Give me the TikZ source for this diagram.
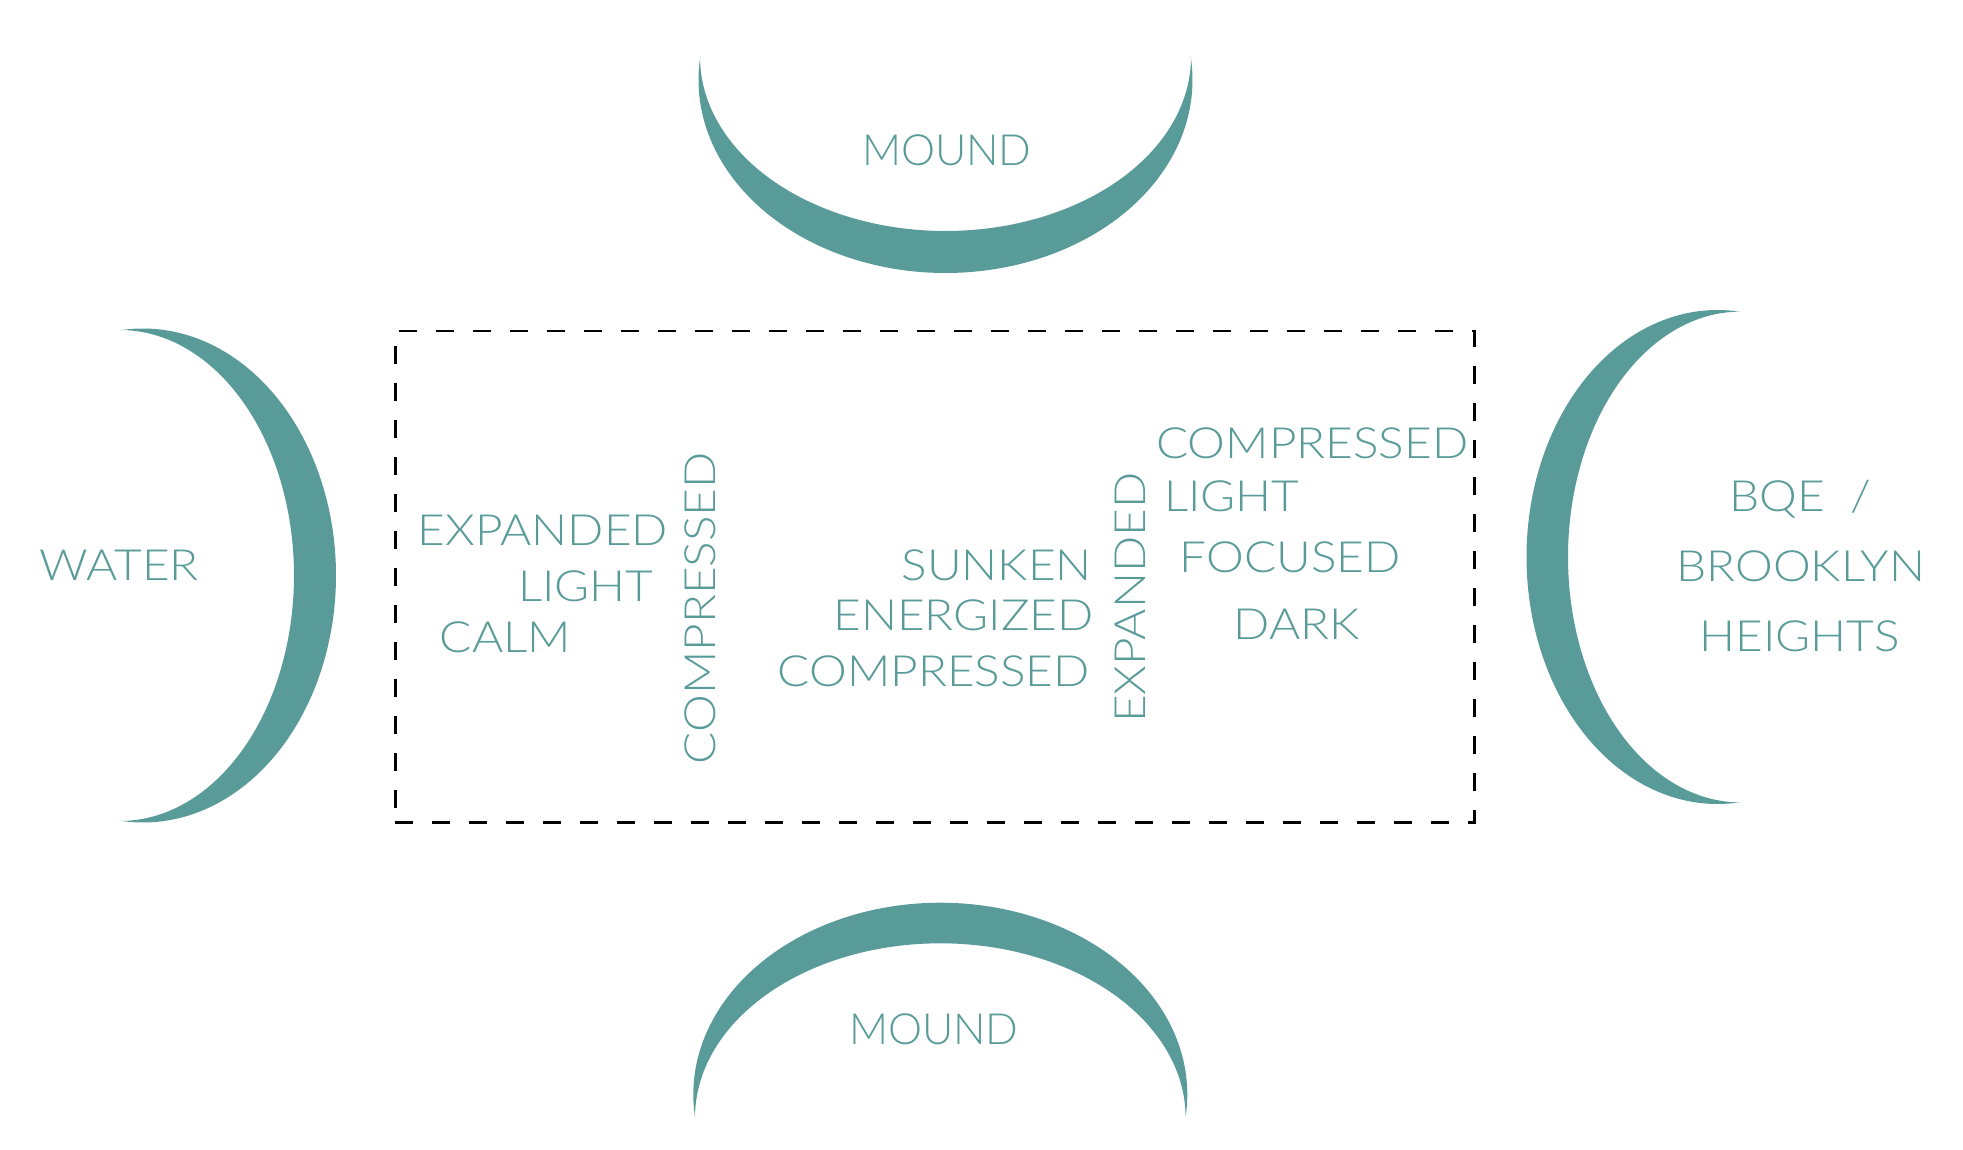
\documentclass[tikz,border=0pt]{standalone}
\usepackage{fontspec}
\newfontfamily\lblfont{Lato Light}[FakeStretch=1.11]
\newfontfamily\lblfontn{Lato Light}
\definecolor{teal1}{RGB}{89,155,152}
\tikzset{
  lbl/.style={font=\lblfont\fontsize{43}{43}\selectfont, text=teal1, inner sep=0pt, anchor=base},
  lbln/.style={lbl, font=\lblfontn\fontsize{43}{43}\selectfont},
  vlbl/.style={lbl, rotate=90},
  crescent/.style={fill=teal1, draw=none},
  frame/.style={draw=black, line width=2.5pt, dash pattern=on 18pt off 19pt}
}
\begin{document}
\begin{tikzpicture}[x=1pt,y=-1pt]
\useasboundingbox (0,0) rectangle (1963,1150);
% crescents
\fill[crescent] plot[domain=-6.85:186.85,samples=120,smooth] ({945.5+247*cos(\x)},{80+193*sin(\x)})
  -- plot[domain=180:0,samples=120,smooth] ({945.5+245.5*cos(\x)},{57+174*sin(\x)}) -- cycle;
\fill[crescent] plot[domain=173.1:366.9,samples=120,smooth] ({940.3+247*cos(\x)},{1094.5+191.8*sin(\x)})
  -- plot[domain=360:180,samples=120,smooth] ({940.3+245.3*cos(\x)},{1117.5+174.2*sin(\x)}) -- cycle;
\fill[crescent] plot[domain=-96.85:96.85,samples=120,smooth] ({143+193*cos(\x)},{575.5+247*sin(\x)})
  -- plot[domain=90:-90,samples=120,smooth] ({120+174*cos(\x)},{575.5+245.5*sin(\x)}) -- cycle;
\fill[crescent] plot[domain=83.08:276.92,samples=120,smooth] ({1717.5+191*cos(\x)},{557+247*sin(\x)})
  -- plot[domain=270:90,samples=120,smooth] ({1740.5+172.5*cos(\x)},{557+245.4*sin(\x)}) -- cycle;
% dashed frame
\node[frame, minimum width=1079pt, minimum height=491pt, inner sep=0pt, anchor=north west] (box) at (394,330) {};
% labels
\node[lbln] (moundtop) at (946.8,165.7) {MOUND};
\node[lbln] (moundbot) at (933.9,1044) {MOUND};
\node[lbl] (water) at (119.3,580) {WATER};
\node[lbl] (bqe) at (1800.5,511) {BQE\ \ /};
\node[lbl] (brooklyn) at (1800.8,581) {BROOKLYN};
\node[lbl] (heights) at (1799.7,651) {HEIGHTS};
\node[lbl] (expA) at (542.9,545.7) {EXPANDED};
\node[lbl] (lightA) at (585.8,601) {LIGHT};
\node[lbl] (calm) at (505.5,652.3) {CALM};
\node[vlbl] (compV) at (715,608.3) {COMPRESSED};
\node[lbl] (sunken) at (996.7,580) {SUNKEN};
\node[lbl] (energ) at (963.5,630) {ENERGIZED};
\node[lbl] (compB) at (933.8,686) {COMPRESSED};
\node[vlbl] (expV) at (1145,597.8) {EXPANDED};
\node[lbl] (compC) at (1312.3,458.3) {COMPRESSED};
\node[lbl] (lightC) at (1231.7,511) {LIGHT};
\node[lbl] (focused) at (1290.3,572.7) {FOCUSED};
\node[lbl] (dark) at (1297,639) {DARK};
\end{tikzpicture}
\end{document}
